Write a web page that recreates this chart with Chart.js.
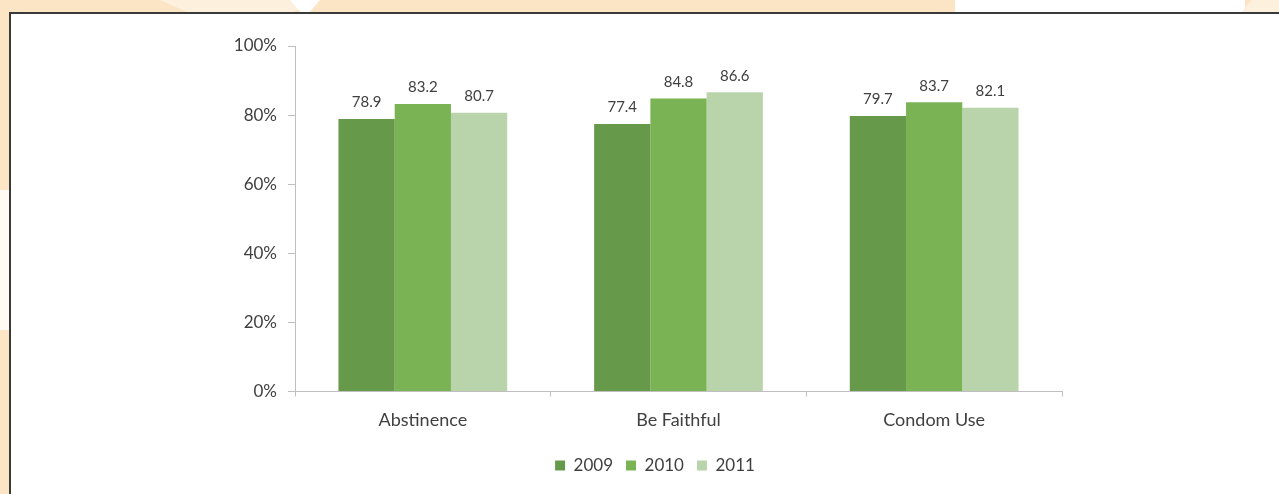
<!DOCTYPE html>
<html>
<head>
<meta charset="utf-8">
<script src="https://cdn.jsdelivr.net/npm/chart.js@4"></script>
<style>
  html, body { margin: 0; padding: 0; }
  body { width: 1279px; height: 494px; position: relative; overflow: hidden; background: #fce5c4; }
  .deco { position: absolute; }
  #d1 { left: 160px; top: 0; width: 160px; height: 14px; background: #fdf1de; clip-path: polygon(0 0, 100% 0, 80% 100%, 20% 100%); }
  #d2 { left: 290px; top: 0; width: 30px; height: 14px; background: #ffffff; clip-path: polygon(0 0, 100% 0, 60% 100%, 40% 100%); }
  #d3 { left: 955px; top: 0; width: 290px; height: 14px; background: #ffffff; }
  #d4 { left: 1240px; top: 0; width: 39px; height: 14px; background: #fdf1de; clip-path: polygon(30% 0, 100% 0, 100% 100%, 0 100%); }
  #d5 { left: 0; top: 190px; width: 10px; height: 140px; background: #fffaf3; }
  #panel { position: absolute; left: 9px; top: 12px; right: 0; bottom: 0; background: #fff; border-top: 2px solid #3a3a3a; border-left: 2px solid #3a3a3a; }
  #wrap { position: absolute; left: 0; top: 0; width: 1279px; height: 494px; }
</style>
</head>
<body>
<div class="deco" id="d1"></div>
<div class="deco" id="d2"></div>
<div class="deco" id="d3"></div>
<div class="deco" id="d4"></div>
<div class="deco" id="d5"></div>
<div id="panel"></div>
<div id="wrap"><canvas id="c"></canvas></div>
<script>
// categories and series (percent)
const categories = ['Abstinence', 'Be Faithful', 'Condom Use'];
const years = ['2009', '2010', '2011'];
const v2009 = [78.9, 77.4, 79.7];
const v2010 = [83.2, 84.8, 83.7];
const v2011 = [80.7, 86.6, 82.1];
const yTicks = [0, 20, 40, 60, 80, 100];

const COLORS = ['#67994a', '#7ab354', '#b9d4ab'];
const FONT = 'Lato, "Open Sans", sans-serif';

// value labels above each bar
const valueLabels = {
  id: 'valueLabels',
  afterDatasetsDraw(chart) {
    const ctx = chart.ctx;
    ctx.save();
    ctx.font = '15px ' + FONT;
    ctx.fillStyle = '#404040';
    ctx.textAlign = 'center';
    ctx.textBaseline = 'bottom';
    chart.data.datasets.forEach((ds, i) => {
      chart.getDatasetMeta(i).data.forEach((bar, j) => {
        ctx.fillText(ds.data[j].toFixed(1), bar.x, bar.y - 9);
      });
    });
    ctx.restore();
  }
};

// legend in the original sits centred under the whole figure, not under the canvas box
const shiftLegend = {
  id: 'shiftLegend',
  afterLayout(chart) {
    const lg = chart.legend;
    if (!lg) return;
    lg.left += 124;
    lg.right += 124;
  }
};

new Chart(document.getElementById('c'), {
  type: 'bar',
  data: {
    labels: categories,
    datasets: [
      { label: years[0], data: v2009, backgroundColor: COLORS[0] },
      { label: years[1], data: v2010, backgroundColor: COLORS[1] },
      { label: years[2], data: v2011, backgroundColor: COLORS[2] },
    ],
  },
  options: {
    responsive: true, maintainAspectRatio: false, animation: false,
    layout: { padding: { left: 0, right: 217, top: 46, bottom: 10 } },
    datasets: { bar: { categoryPercentage: 0.66, barPercentage: 1.0 } },
    plugins: {
      legend: {
        position: 'bottom',
        labels: { font: { size: 17, family: FONT }, color: '#404040', boxWidth: 10, boxHeight: 10, padding: 13 },
      },
      tooltip: { enabled: false },
    },
    scales: {
      x: {
        grid: { drawOnChartArea: false, color: '#bfbfbf', tickLength: 5 },
        border: { color: '#bfbfbf' },
        ticks: { font: { size: 18, family: FONT }, color: '#404040', padding: 13 },
      },
      y: {
        min: 0, max: 100,
        afterFit: s => { s.width = 295; },
        afterBuildTicks: s => { s.ticks = yTicks.map(v => ({ value: v })); },
        grid: { drawOnChartArea: false, color: '#bfbfbf', tickLength: 7 },
        border: { color: '#bfbfbf' },
        ticks: { font: { size: 17, family: FONT }, color: '#404040', padding: 11, callback: v => v + '%' },
      },
    },
  },
  plugins: [valueLabels, shiftLegend],
});
</script>
</body>
</html>
